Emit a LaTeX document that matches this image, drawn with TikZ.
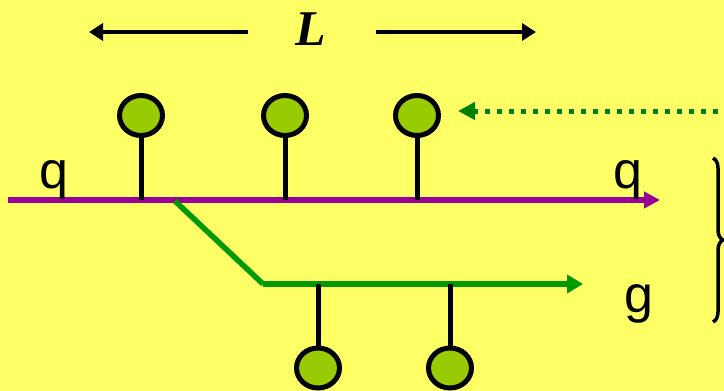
\documentclass[tikz,border=0pt]{standalone}
\usepackage{fontspec}
\setmainfont{Liberation Sans}
\newfontfamily\timesfont{Liberation Serif}
\usetikzlibrary{arrows.meta,shapes.geometric,decorations.pathreplacing}
\definecolor{bgyellow}{HTML}{FFFF66}
\definecolor{quarkpurple}{HTML}{990099}
\definecolor{gluongreen}{HTML}{009900}
\definecolor{dotgreen}{HTML}{008000}
\definecolor{ballgreen}{HTML}{99CC00}
\tikzset{
  ball/.style={ellipse, draw=black, line width=5pt, fill=ballgreen, inner sep=0pt, minimum width=43pt, minimum height=40pt},
  stem/.style={draw=black, line width=5pt},
  quark/.style={draw=quarkpurple, line width=5.5pt, -{Triangle[length=16pt,width=16pt]}},
  gluon/.style={draw=gluongreen, line width=5.5pt},
  dimarrow/.style={draw=black, line width=4pt, -{Triangle[length=14pt,width=17pt]}},
  lbl/.style={font=\fontsize{52}{56}\selectfont, inner sep=0pt, anchor=base},
  dotarrow/.style={draw=dotgreen, line width=5pt, dash pattern=on 5pt off 7pt, -{Triangle[length=17pt,width=17pt]}},
}
\begin{document}
\begin{tikzpicture}[x=1pt,y=-1pt]
\fill[bgyellow] (0,0) rectangle (724,391);
\useasboundingbox (0,0) rectangle (724,391);
\clip (0,0) rectangle (724,391);

% length L
\node (L) at (311,29) {\fontsize{50}{54}\selectfont\timesfont\bfseries\itshape L};
\coordinate (Lleft) at (248,32);
\coordinate (Lright) at (376,32);
\coordinate (Ltipl) at (89,32);
\coordinate (Ltipr) at (536,32);
\draw[dimarrow] (Lleft) -- (Ltipl);
\draw[dimarrow] (Lright) -- (Ltipr);

% quark line
\coordinate (qstart) at (8,200);
\coordinate (qend) at (660,200);
\draw[quark] (qstart) -- (qend);
\node[lbl] (qin) at (54,188) {q};
\node[lbl] (qout) at (628,188) {q};

% top balls
\node[ball] (b1) at (141,115.5) {};
\node[ball] (b2) at (285,115.5) {};
\node[ball] (b3) at (417,115.5) {};
\coordinate (s1) at (141,200);
\coordinate (s2) at (285,200);
\coordinate (s3) at (417,200);
\draw[stem] (b1.south) -- (s1);
\draw[stem] (b2.south) -- (s2);
\draw[stem] (b3.south) -- (s3);

% gluon
\coordinate (gsplit) at (175,201);
\coordinate (gknee) at (263,284);
\coordinate (gend) at (583,284);
\draw[gluon] (gsplit) -- (gknee);
\draw[gluon, -{Triangle[length=16pt,width=18pt]}] (gknee) -- (gend);
\node[lbl] (glbl) at (639,312) {g};

% bottom balls
\node[ball] (b4) at (318,368) {};
\node[ball] (b5) at (450,368) {};
\coordinate (s4) at (318,284);
\coordinate (s5) at (450,284);
\draw[stem] (s4) -- (b4.north);
\draw[stem] (s5) -- (b5.north);

% dotted arrow
\coordinate (dstart) at (730,111);
\coordinate (dtip) at (458,111);
\draw[dotarrow] (dstart) -- (dtip);

% brace
\coordinate (brtop) at (713,158);
\coordinate (brbot) at (713,322);
\draw[line width=3.5pt, decorate, decoration={brace, amplitude=10pt}] (brtop) -- (brbot);
\end{tikzpicture}
\end{document}
